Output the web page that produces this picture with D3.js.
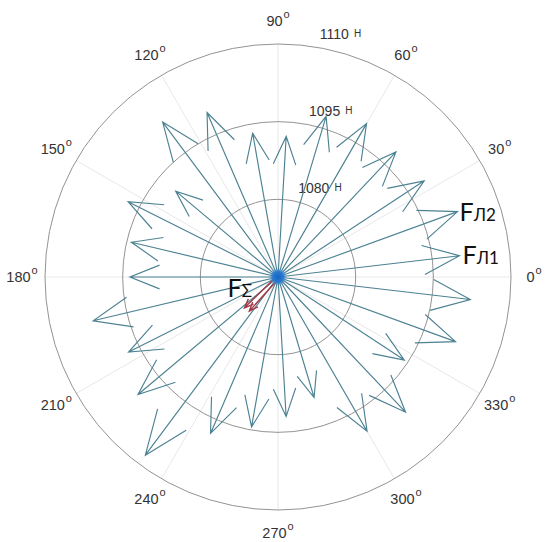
<!DOCTYPE html>
<html>
<head>
<meta charset="utf-8">
<script src="https://cdn.jsdelivr.net/npm/d3@7"></script>
<style>
  body { margin: 0; background: #fff; }
  svg { display: block; }
  text { font-family: "Liberation Sans", Arial, sans-serif; fill: #333; }
  .flabel { font-family: Lato, "Open Sans", sans-serif; fill: #111; }
</style>
</head>
<body>
<div id="chart"></div>
<script>
// directions of the force vectors, degrees (counter-clockwise from 0)
var directions = [6.67, 20, 33.33, 46.67, 60, 73.33, 86.67, 100, 113.33, 126.67, 140, 153.33, 166.67, 180,
  193.33, 206.67, 220, 233.33, 246.67, 260, 273.33, 286.67, 300, 313.33, 326.67, 340, 353.33];
// magnitudes, N
var forces = [1100.3, 1101.9, 1098.8, 1098.2, 1099.2, 1097.4, 1092.2, 1093.2, 1099.6, 1102.3, 1090.8, 1097.4, 1094.1, 1093.6,
  1101.7, 1097.3, 1100.3, 1107.9, 1097.9, 1094.4, 1092.0, 1089.3, 1099.4, 1100.9, 1094.2, 1101.5, 1102.4];
// resultant (drawn twice, slightly apart)
var sumDirections = [224.5, 228];
var sumForces = [1073.8, 1073.6];
var ringTicks = [1080, 1095, 1110];
var angleTicks = [0, 30, 60, 90, 120, 150, 180, 210, 240, 270, 300, 330];

var width = 550, height = 542;
var cx = 278, cy = 277, rmax = 233;

var svg = d3.select('#chart').append('svg').attr('width', width).attr('height', height);
var g = svg.append('g').attr('transform', 'translate(' + cx + ',' + cy + ')');

var r = d3.scaleLinear().domain([1065, 1110]).range([0, rmax]);
var rad = d => d * Math.PI / 180;
var px = (a, len) => len * Math.cos(rad(a));
var py = (a, len) => -len * Math.sin(rad(a));

// spokes
g.selectAll('.spoke').data(angleTicks).enter().append('line')
  .attr('x1', 0).attr('y1', 0)
  .attr('x2', d => px(d, rmax)).attr('y2', d => py(d, rmax))
  .attr('stroke', '#e8e8e8').attr('stroke-width', 1);

// rings
g.selectAll('.ring').data(ringTicks).enter().append('circle')
  .attr('r', d => r(d)).attr('fill', 'none')
  .attr('stroke', '#939393').attr('stroke-width', 1);

// ring labels (at 82 deg like matlab polar)
var ringLab = g.selectAll('.ringlab').data(ringTicks).enter().append('text')
  .attr('x', d => px(82, r(d) + 3) + 9)
  .attr('y', d => py(82, r(d) + 3) - 4)
  .style('font-size', '14px');
ringLab.append('tspan').text(d => d);
ringLab.append('tspan').text('Н').attr('dx', 5).attr('dy', -2).style('font-size', '10px');

// angle labels
var angLab = g.selectAll('.anglab').data(angleTicks).enter().append('text')
  .attr('x', d => px(d, 256)).attr('y', d => py(d, 256) + 5)
  .attr('text-anchor', 'middle')
  .style('font-size', '14.5px');
angLab.append('tspan').text(d => d);
angLab.append('tspan').text('o').attr('dx', 1).attr('dy', -8).style('font-size', '11px');

function arrow(a, len, off) {
  off = off || 0;
  var ox = px(a + 90, off), oy = py(a + 90, off);
  var tx = px(a, len) + ox, ty = py(a, len) + oy;
  var bx = px(a, 0.8 * len) + ox, by = py(a, 0.8 * len) + oy;
  var nx = px(a + 90, 0.08 * len), ny = py(a + 90, 0.08 * len);
  return 'M' + ox + ',' + oy + 'L' + tx + ',' + ty +
    'M' + (bx + nx) + ',' + (by + ny) + 'L' + tx + ',' + ty + 'L' + (bx - nx) + ',' + (by - ny);
}

// force arrows
g.selectAll('.arrow').data(directions).enter().append('path')
  .attr('d', (d, i) => arrow(d, r(forces[i])))
  .attr('fill', 'none').attr('stroke', '#4d8293').attr('stroke-width', 1.15)
  .attr('stroke-linejoin', 'miter');

// resultant
g.selectAll('.sum').data(sumDirections).enter().append('path')
  .attr('d', (d, i) => arrow(d, r(sumForces[i]), i ? 1.5 : -1.5))
  .attr('fill', 'none').attr('stroke', '#a33a48').attr('stroke-width', 1.4);

// hub where all arrows meet
var grad = svg.append('defs').append('radialGradient').attr('id', 'hub');
grad.append('stop').attr('offset', '0%').attr('stop-color', '#1565c0');
grad.append('stop').attr('offset', '60%').attr('stop-color', '#2a7ad0');
grad.append('stop').attr('offset', '100%').attr('stop-color', '#5aa0e0').attr('stop-opacity', 0);
g.append('circle').attr('r', 9).attr('fill', 'url(#hub)');

// force labels
function flabel(x, y, sub) {
  var t = g.append('text').attr('class', 'flabel').attr('x', x).attr('y', y);
  t.append('tspan').text('F').style('font-size', '25px');
  t.append('tspan').text(sub).style('font-size', '17px');
}
var i1 = 0, i2 = 1;
flabel(px(directions[i2], r(forces[i2])) + 2, py(directions[i2], r(forces[i2])) + 9, 'Л2');
flabel(px(directions[i1], r(forces[i1])) + 3, py(directions[i1], r(forces[i1])) + 8, 'Л1');
flabel(px(sumDirections[0], r(sumForces[0])) - 18, py(sumDirections[0], r(sumForces[0])) - 12, 'Σ');
</script>
</body>
</html>
